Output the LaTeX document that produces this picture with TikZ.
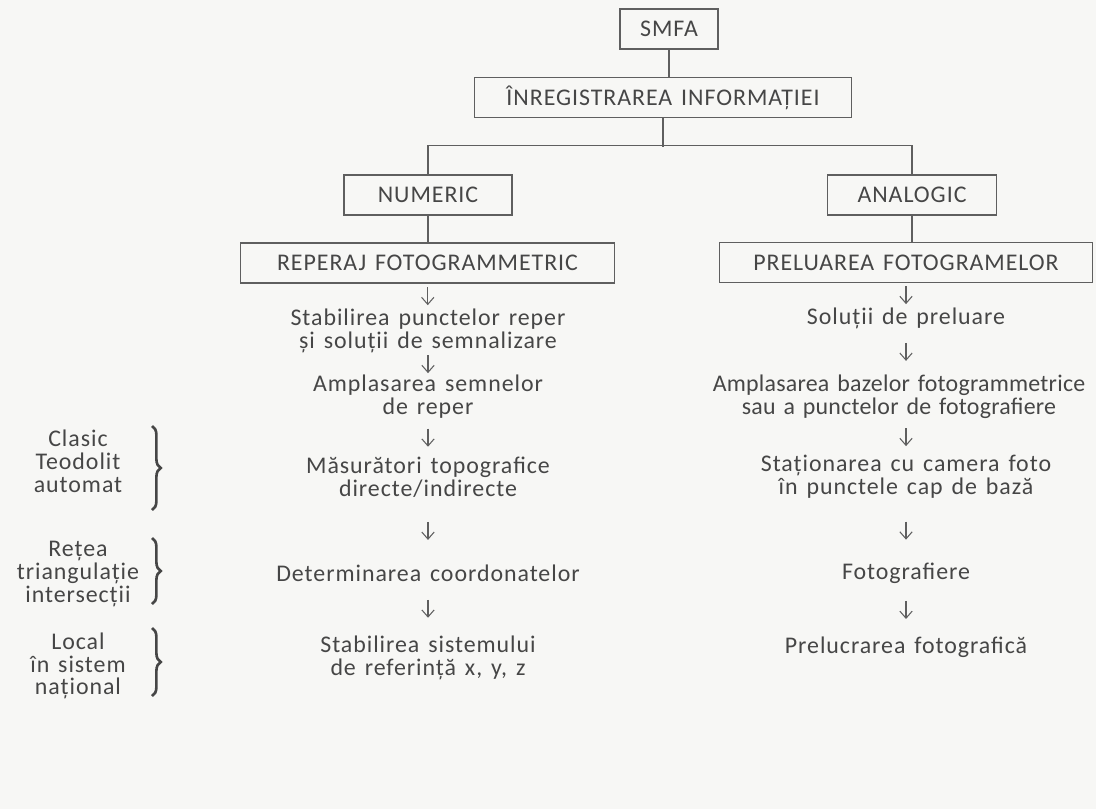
\documentclass[tikz,border=0pt]{standalone}
\usepackage{fontspec}
\setmainfont{Carlito}[LetterSpace=4.0, WordSpace=1.4]
\usetikzlibrary{calc,arrows.meta,decorations.pathreplacing}

\definecolor{ink}{RGB}{70,70,70}
\definecolor{rule}{RGB}{95,95,95}
\definecolor{paper}{RGB}{247,247,245}

\tikzset{
  >={Straight Barb[length=4pt,width=7pt]},
  box/.style={draw=rule, line width=0.6pt, minimum height=0.8cm, inner sep=0pt, text=ink},
  txt/.style={align=center, inner sep=0pt, text=ink},
  tight/.style={font=\fontsize{13.6}{13}\selectfont\addfontfeature{LetterSpace=1.0}},
  arr/.style={->, draw=rule, line width=0.6pt},
  brc/.style={decorate, decoration={brace, amplitude=5pt}, draw=ink, line width=1.5pt}
}

\begin{document}
\begin{tikzpicture}[x=0.02cm, y=-0.02cm, font=\fontsize{13.6}{13}\selectfont]
        \fill[paper] (0,0) rectangle (1096,809);
        \useasboundingbox (0,0) rectangle (1096,809);

        % boxes
        \node[box, minimum width=1.96cm] (smfa) at (669,29) {SMFA};
        \node[box, minimum width=7.54cm] (inreg) at (663,97.5) {ÎNREGISTRAREA INFORMAȚIEI};
        \node[box, minimum width=3.36cm] (numeric) at (428,195) {NUMERIC};
        \node[box, minimum width=3.38cm] (analogic) at (912,195) {ANALOGIC};
        \node[box, minimum width=7.50cm] (reperaj) at (427.5,263) {REPERAJ FOTOGRAMMETRIC};
        \node[box, minimum width=7.48cm] (preluare) at (906,262.5) {PRELUAREA FOTOGRAMELOR};

        \draw[rule, line width=0.6pt] (smfa.south) -- (smfa.south |- inreg.north);
        \draw[rule, line width=0.6pt] (inreg.south) -- ++(0,28.5);
        \draw[rule, line width=0.7pt] (numeric.north) -- ++(0,-29) -| (analogic.north);
        \draw[rule, line width=0.9pt] (numeric.south) -- (numeric.south |- reperaj.north);
        \draw[rule, line width=0.9pt] (analogic.south) -- (analogic.south |- preluare.north);

        % numeric branch
        \node[txt] (n1) at (428,331) {Stabilirea punctelor reper\\și soluții de semnalizare};
        \node[txt] (n2) at (428,397) {Amplasarea semnelor\\de reper};
        \node[txt] (n3) at (428,477) {Măsurători topografice\\directe/indirecte};
        \node[txt] (n4) at (428,573) {Determinarea coordonatelor};
        \node[txt] (n5) at (428,658) {Stabilirea sistemului\\de referință x, y, z};

        % analogic branch
        \node[txt] (a1) at (906,318) {Soluții de preluare};
        \node[txt, tight] (a2) at (899,397) {Amplasarea bazelor fotogrammetrice\\sau a punctelor de fotografiere};
        \node[txt] (a3) at (906,477) {Staționarea cu camera foto\\în punctele cap de bază};
        \node[txt] (a4) at (906,573) {Fotografiere};
        \node[txt] (a5) at (906,647) {Prelucrarea fotografică};

        \draw[arr] ($(reperaj.south)!.5!(n1.north)$) ++(0,-9) -- ++(0,18);
        \draw[arr] ($(n1.south)!.5!(n2.north)$) ++(0,-9) -- ++(0,18);
        \draw[arr] ($(n2.south)!.5!(n3.north)$) ++(0,-9) -- ++(0,18);
        \draw[arr] ($(n3.south)!.5!(n4.north)$) ++(0,-9) -- ++(0,18);
        \draw[arr] ($(n4.south)!.5!(n5.north)$) ++(0,-9) -- ++(0,18);
        \draw[arr] ($(preluare.south)!.5!(a1.north)$) ++(0,-9) -- ++(0,18);
        \draw[arr] ($(a1.south)!.5!(a2.north -| a1)$) ++(0,-9) -- ++(0,18);
        \draw[arr] ($(a2.south -| a1)!.5!(a3.north)$) ++(0,-9) -- ++(0,18);
        \draw[arr] ($(a3.south)!.5!(a4.north)$) ++(0,-9) -- ++(0,18);
        \draw[arr] ($(a4.south)!.5!(a5.north)$) ++(0,-9) -- ++(0,18);

        % side notes
        \node[txt] (clasic) at (78,461) {Clasic\\Teodolit\\automat};
        \node[txt] (retea) at (78,574) {Rețea\\triangulație\\intersecții};
        \node[txt] (local) at (78,666) {Local\\în sistem\\național};
        \draw[brc] (152,426) -- (152,510);
        \draw[brc] (152,538) -- (152,604);
        \draw[brc] (152,628) -- (152,696);
\end{tikzpicture}
\end{document}
